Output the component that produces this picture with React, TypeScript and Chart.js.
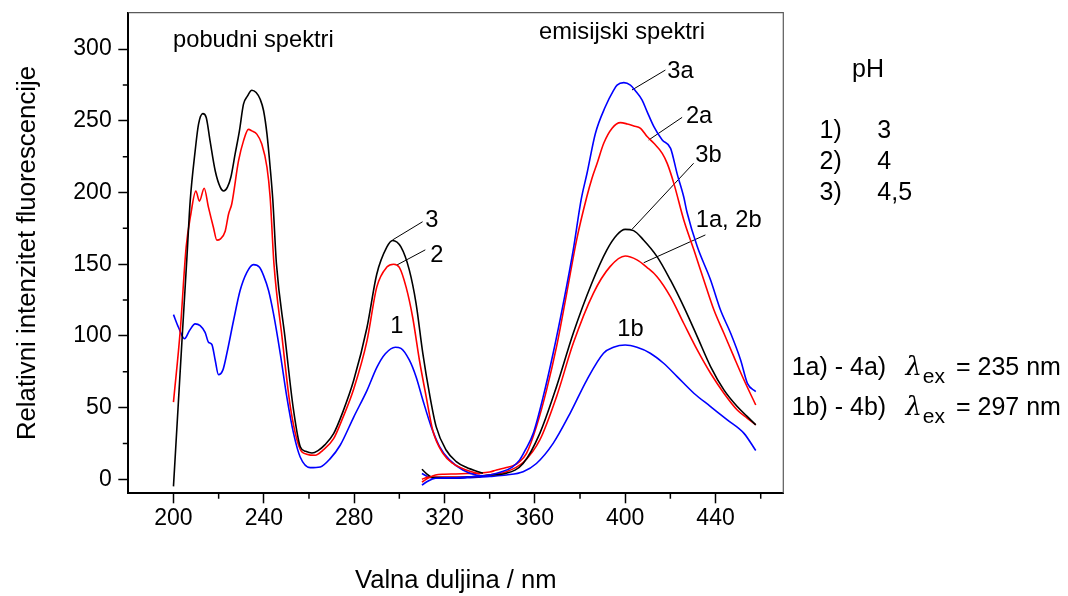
import React, { useEffect, useRef } from "react";
import { Chart, registerables } from "chart.js";

Chart.register(...registerables);

// ---------- data ----------
// excitation spectra ("pobudni spektri")
const ex3X = [200, 202, 204, 206, 207.4, 209.6, 211.1, 213, 214.5, 216.2, 218.5, 220.7, 222.2, 223.9, 225.4, 227.3, 229.2, 231, 232.8, 234.7, 236.6, 238.4, 239.9, 241.4, 242.8, 244, 245.6, 249.3, 253, 256.2, 258.5, 261.3, 264, 267, 270.9, 275, 279.8, 285.7, 290, 294.5, 297, 300.7, 304.4, 307.4, 310.4, 313.3, 316.3, 320.7, 325.2, 329.6, 337];
const ex3Y = [-5, 49, 103, 156, 194, 229, 247.7, 255, 252.3, 236, 215, 203.7, 201, 203.7, 210.6, 226.9, 243, 261.6, 267.4, 271.3, 269.7, 265, 257, 240.7, 217.6, 194.4, 150, 100, 50, 22.5, 19.5, 18.3, 20, 24, 31.8, 47, 69, 106, 143, 162, 166.5, 162, 146, 122.7, 87.8, 60, 36.7, 20.4, 12.3, 8.3, 4.2];

const ex2X = [200, 203, 205.6, 207.7, 209.9, 211.5, 213.6, 215.5, 217.7, 219.2, 220.7, 222.9, 224.4, 225.8, 228.8, 231, 233.2, 234.7, 236.9, 239.1, 241.4, 242.8, 244.5, 248, 251.8, 256, 259, 262.8, 266, 270.9, 275, 279.8, 285.7, 290, 294.5, 297.5, 300, 303, 305.9, 308.9, 311.9, 314.8, 319.3, 323.7, 329.6, 335.6];
const ex2Y = [53.8, 103.7, 161.7, 185, 201, 194, 203, 189.6, 175.6, 166.8, 167.5, 173, 185, 192, 222, 236, 244, 243, 240.7, 233.8, 217.6, 196.8, 150, 100, 50, 21.3, 17.5, 16.7, 20, 28.3, 43, 63, 96.7, 134, 148, 150, 147.8, 134, 113, 83, 57.5, 34, 18, 11, 6.5, 3.7];

const ex1X = [200, 202.2, 204.9, 207.1, 209.6, 211.8, 214, 215.5, 217, 218.5, 219.9, 221.9, 223.6, 226.6, 229.5, 232.5, 235.4, 238.1, 239.9, 242.1, 244.3, 247.3, 250.2, 253.2, 256.1, 260.5, 265, 269.4, 273.8, 279.8, 285.7, 290.1, 293.8, 298.2, 300.7, 304.4, 307.4, 310.4, 314.1, 317.8, 322.2, 328.1, 334, 339];
const ex1Y = [114.8, 106, 98, 103.7, 108.4, 107.2, 102.5, 95.6, 94, 82.8, 73, 76.3, 87.5, 110.7, 131.6, 144.3, 149.7, 147.8, 142, 131.6, 115.3, 87.5, 57.3, 31.8, 15.5, 8.1, 8.6, 14.4, 23.7, 43.4, 62, 78.2, 87.5, 92.1, 91.3, 83.2, 71.5, 55.3, 36.7, 22.8, 13.5, 6.5, 3, 2.3];

// emission spectra ("emisijski spektri")
const em3aX = [310, 313, 316, 320, 325, 330, 335, 340, 345, 350, 353.3, 356, 359.3, 363.7, 368.1, 372.6, 377, 380.5, 383.1, 386.8, 391.2, 394.9, 396.4, 399.4, 402.3, 404.5, 407.5, 409.7, 412.7, 416.4, 420.1, 423, 425.9, 427.4, 431.9, 437.8, 442.2, 446.7, 451.1, 454.1, 457.8];
const em3aY = [-4, -1, 0.7, 1, 1, 1.5, 2, 3, 5, 8.5, 13.5, 21, 32, 57.6, 87.9, 122.7, 160, 195, 213.4, 241.2, 259.8, 271.4, 274.9, 276.6, 274.9, 271, 264.5, 256.4, 245.9, 236.6, 230.8, 213, 197, 186, 162.3, 139, 118, 101.8, 83.2, 66.9, 61.1];

const em2aX = [310, 313, 316, 320, 325, 330, 335, 340, 343, 347, 350.4, 353, 356.3, 360.7, 365.2, 369.6, 374.1, 378.5, 383, 385.3, 387.5, 390.5, 394.2, 397.9, 400.9, 403.8, 406.8, 409.7, 412.7, 416.4, 418.6, 421.6, 425.9, 430.4, 434.8, 439.3, 443.7, 448.1, 452.6, 457.8];
const em2aY = [-2, 1, 3, 3.5, 3.7, 4, 4.2, 5, 6.5, 8, 9.5, 12, 18, 36.7, 62.3, 92.5, 129.7, 167, 197, 210, 220, 234.3, 244.8, 248.7, 247.8, 246.4, 244.8, 239, 234.3, 227.3, 220.3, 206, 181, 160, 139, 118, 101.8, 85.5, 69.2, 51.8];

const em3bX = [310, 312, 315, 320, 325, 330, 335, 340, 347.4, 354.8, 362.2, 369.6, 377, 385.2, 391.9, 396.3, 400, 403.7, 408.1, 414.1, 420, 425.9, 431.9, 437.8, 443.7, 449.6, 454.1, 457.8];
const em3bY = [7, 4, 1.2, 1.2, 1.2, 1.5, 2, 3, 4.2, 11, 32, 64.6, 101.8, 136.7, 160, 170.4, 174.3, 173.4, 166.9, 155.3, 139, 120.4, 99.5, 78.6, 62.3, 50.7, 43.7, 37.9];

const em1aX = [310, 313, 316, 320, 325, 330, 335, 340, 347, 355, 362.2, 369.6, 377, 385.9, 393.3, 400, 405.2, 409.6, 414.1, 420, 425.9, 431.9, 437.8, 443.7, 449.6, 454.1, 457.8];
const em1aY = [0, 1.5, 1.5, 1.5, 1.5, 1.5, 2, 3, 5, 12, 27.4, 57.6, 94.8, 129.7, 148.3, 155.7, 153, 147.8, 141.3, 127.4, 108.8, 90.2, 73.9, 60, 48.3, 42.5, 37.9];

const em1bX = [310, 313, 316, 320, 325, 330, 335, 340, 347.4, 354.8, 360.7, 368.1, 375.6, 383, 390.4, 394.8, 400, 405.2, 411.1, 417, 423, 430.4, 437.8, 445.2, 452.6, 457.8];
const em1bY = [4, 1.5, 0.7, 0.7, 0.7, 1, 1.5, 2, 3, 5.3, 11, 25, 46, 69.2, 87.9, 92, 93.6, 92, 87.9, 80.9, 71.6, 60, 50.7, 41.4, 32, 20];

// ticks
const xTickValues = [200, 240, 280, 320, 360, 400, 440];
const yTickValues = [0, 50, 100, 150, 200, 250, 300];
const xMinorTicks = [220, 260, 300, 340, 380, 420, 460];
const yMinorTicks = [25, 75, 125, 175, 225, 275];

// curve labels (text, data position)
const curveLabels = ["3", "2", "1", "1b", "1a, 2b", "3b", "2a", "3a"];
const curveLabelX = [314.4, 316.6, 298.9, 402.3, 445.8, 436.9, 432.7, 424.5];
const curveLabelY = [176.2, 151.7, 102.2, 100.1, 176.2, 221, 248.7, 279.6];

// leader lines from curve to label
const leaderFromX = [297, 298.9, 408.2, 403, 410.4, 403];
const leaderFromY = [166.9, 149.4, 151, 174.3, 236.6, 271.5];
const leaderToX = [310.3, 311.5, 435.5, 430.3, 425.2, 417.8];
const leaderToY = [179.6, 160, 170.4, 220.4, 252.4, 285.4];

// panel headings
const panelTitles = ["pobudni spektri", "emisijski spektri"];
const panelTitleX = [235.4, 398.6];
const panelTitleY = [301.8, 306.8];

// right-hand notes
const phRows = ["1)", "2)", "3)"];
const phValues = ["3", "4", "4,5"];
const exRows = ["1a) - 4a)", "1b) - 4b)"];
const exValues = ["= 235 nm", "= 297 nm"];

const FONT = '"Liberation Sans", Arial, sans-serif';

const toPts = (xs: number[], ys: number[]) => xs.map((x, i) => ({ x, y: ys[i] }));

export default function App() {
  const ref = useRef<HTMLCanvasElement | null>(null);

  useEffect(() => {
    if (!ref.current) return;

    const curve = (xs: number[], ys: number[], color: string) => ({
      data: toPts(xs, ys),
      borderColor: color,
      backgroundColor: color,
      borderWidth: 1.6,
      pointRadius: 0,
      fill: false,
      cubicInterpolationMode: "monotone" as const,
    });

    const leaders = leaderFromX.map((fx, i) => ({
      data: [
        { x: fx, y: leaderFromY[i] },
        { x: leaderToX[i], y: leaderToY[i] },
      ],
      borderColor: "#000",
      borderWidth: 1,
      pointRadius: 0,
      fill: false,
      tension: 0,
    }));

    const overlay = {
      id: "overlay",
      afterDraw(chart: any) {
        const { ctx, chartArea: ca } = chart;
        const xs = chart.scales.x;
        const ys = chart.scales.y;
        ctx.save();
        // top & right frame
        ctx.strokeStyle = "#5a5a5a";
        ctx.lineWidth = 1.2;
        ctx.beginPath();
        ctx.moveTo(ca.left, ca.top);
        ctx.lineTo(ca.right, ca.top);
        ctx.lineTo(ca.right, ca.bottom);
        ctx.stroke();
        // minor ticks
        ctx.strokeStyle = "#000";
        ctx.lineWidth = 1.5;
        ctx.beginPath();
        xMinorTicks.forEach((v) => {
          const px = xs.getPixelForValue(v);
          ctx.moveTo(px, ca.bottom);
          ctx.lineTo(px, ca.bottom + 5.5);
        });
        yMinorTicks.forEach((v) => {
          const py = ys.getPixelForValue(v);
          ctx.moveTo(ca.left - 5.5, py);
          ctx.lineTo(ca.left, py);
        });
        ctx.stroke();

        ctx.fillStyle = "#000";
        ctx.textBaseline = "alphabetic";
        // curve labels
        ctx.font = `23.7px ${FONT}`;
        ctx.textAlign = "center";
        curveLabels.forEach((t, i) => {
          ctx.fillText(t, xs.getPixelForValue(curveLabelX[i]), ys.getPixelForValue(curveLabelY[i]));
        });
        panelTitles.forEach((t, i) => {
          ctx.fillText(t, xs.getPixelForValue(panelTitleX[i]), ys.getPixelForValue(panelTitleY[i]));
        });

        // pH block
        ctx.font = `25px ${FONT}`;
        ctx.textAlign = "center";
        ctx.fillText("pH", 868, 77.3);
        ctx.textAlign = "left";
        phRows.forEach((t, i) => {
          const by = 137.5 + i * 31;
          ctx.fillText(t, 819.5, by);
          ctx.fillText(phValues[i], 877.3, by);
        });

        // excitation wavelength notes
        exRows.forEach((t, i) => {
          const by = 375 + i * 40;
          ctx.font = `25px ${FONT}`;
          ctx.textAlign = "left";
          ctx.fillText(t, 791.7, by);
          ctx.font = `italic 26px "DejaVu Serif", serif`;
          ctx.fillText("λ", 905.5, by);
          ctx.font = `21px ${FONT}`;
          ctx.fillText("ex", 922.7, by + 8);
          ctx.font = `25px ${FONT}`;
          ctx.fillText(exValues[i], 956, by);
        });
        ctx.restore();
      },
    };

    const chart = new Chart(ref.current, {
      type: "line",
      data: {
        datasets: [
          curve(ex3X, ex3Y, "#000000"),
          curve(ex2X, ex2Y, "#ff0000"),
          curve(ex1X, ex1Y, "#0000ff"),
          curve(em3aX, em3aY, "#0000ff"),
          curve(em2aX, em2aY, "#ff0000"),
          curve(em3bX, em3bY, "#000000"),
          curve(em1aX, em1aY, "#ff0000"),
          curve(em1bX, em1bY, "#0000ff"),
          ...leaders,
        ] as any,
      },
      options: {
        animation: false,
        responsive: false,
        layout: { padding: { left: 0, right: 284.7, top: 12.7, bottom: 0 } },
        plugins: {
          legend: { display: false },
          tooltip: { enabled: false },
          title: { display: false },
        },
        scales: {
          x: {
            type: "linear",
            min: 180,
            max: 470,
            afterBuildTicks: (s: any) => {
              s.ticks = xTickValues.map((v) => ({ value: v }));
            },
            afterFit: (s: any) => {
              s.height = 102.7;
              s.paddingLeft = 0;
              s.paddingRight = 0;
            },
            ticks: {
              font: { size: 23, family: FONT },
              color: "#000",
              padding: 2,
              maxRotation: 0,
              autoSkip: false,
            },
            grid: {
              drawOnChartArea: false,
              drawTicks: true,
              tickLength: 10,
              tickColor: "#000",
              tickWidth: 1.5,
            },
            border: { display: true, color: "#000", width: 2 },
            title: {
              display: true,
              text: "Valna duljina / nm",
              font: { size: 25.6, family: FONT },
              color: "#000",
              padding: { top: 0, bottom: 0 },
            },
          },
          y: {
            type: "linear",
            min: -9.8,
            max: 325.4,
            afterBuildTicks: (s: any) => {
              s.ticks = yTickValues.map((v) => ({ value: v }));
            },
            afterFit: (s: any) => {
              s.width = 128.3;
              s.paddingTop = 0;
              s.paddingBottom = 0;
            },
            ticks: {
              font: { size: 23, family: FONT },
              color: "#000",
              padding: 6.6,
              autoSkip: false,
            },
            grid: {
              drawOnChartArea: false,
              drawTicks: true,
              tickLength: 10,
              tickColor: "#000",
              tickWidth: 1.5,
            },
            border: { display: true, color: "#000", width: 2 },
            title: {
              display: true,
              text: "Relativni intenzitet fluorescencije",
              font: { size: 25.8, family: FONT },
              color: "#000",
              padding: { top: 12, bottom: 0 },
            },
          },
        },
      },
      plugins: [overlay],
    });

    return () => chart.destroy();
  }, []);

  return (
    <div style={{ position: "absolute", left: 0, top: 0, width: 1068, height: 596, background: "#fff" }}>
      <canvas ref={ref} width={1068} height={596} style={{ width: 1068, height: 596, display: "block" }} />
    </div>
  );
}
